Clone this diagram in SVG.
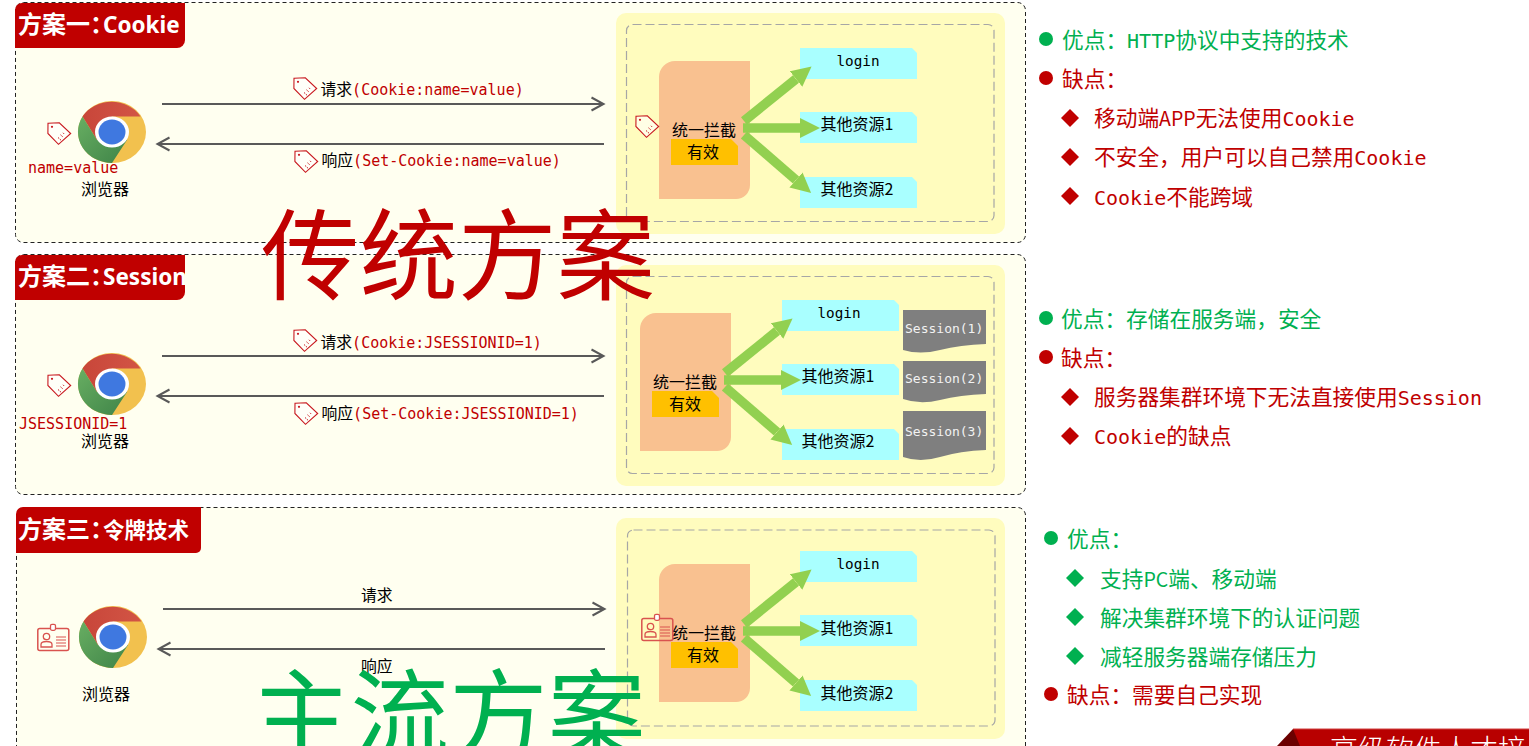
<svg xmlns="http://www.w3.org/2000/svg" width="1529" height="746" viewBox="0 0 1529 746">
<style>
text{font-family:"Noto Sans CJK SC","Noto Sans",sans-serif;fill:#000}
.m{font-family:"DejaVu Sans Mono","Noto Sans CJK SC",monospace}
.panel{fill:#FFFFF0;stroke:#222;stroke-width:1;stroke-dasharray:4 3}
.tab{fill:#C00000}
.tabt{fill:#fff;font-weight:700;font-size:24px}
.lat{font-family:"Noto Sans",sans-serif;font-size:22.500px}
.yel{fill:#FFFCBE}
.dash{fill:none;stroke:#A6A6A6;stroke-width:1.2;stroke-dasharray:9 4}
.orange{fill:#F9C190}
.gold{fill:#FFC000}
.blue{fill:#A9FFFF}
.doc{fill:#7F7F7F}
.doct{fill:#F2F2F2;font-size:13px}
.s{font-size:16px}
.lab{font-size:15.8px}
.ltm{font-size:15px;fill:#C00000}
.red{fill:#C00000}
.grn{fill:#00B050}
.li{font-size:21.7px}
.lim{font-size:20px}
.nar{font-size:19.500px}
.fat{stroke:#92D050;stroke-width:9.5;fill:none;marker-end:url(#fat)}
.thin{stroke:#595959;stroke-width:2;fill:none;marker-end:url(#open)}
.big{font-size:98.5px}
</style>
<defs>
<marker id="fat" markerUnits="userSpaceOnUse" markerWidth="20" markerHeight="20" refX="0" refY="10" orient="auto" viewBox="0 0 20 20"><path d="M0 0L20 10L0 20Z" fill="#92D050"/></marker>
<marker id="open" markerUnits="userSpaceOnUse" markerWidth="16" markerHeight="18" refX="13" refY="8" orient="auto" viewBox="0 0 16 16"><path d="M1.5 1.5L13.5 8L1.5 14.5" fill="none" stroke="#595959" stroke-width="2"/></marker>
<linearGradient id="gr" x1="0" y1="0" x2="1" y2="1"><stop offset="0" stop-color="#68AE62"/><stop offset="1" stop-color="#3F8448"/></linearGradient>
<linearGradient id="rd" x1="0" y1="0" x2="1" y2="0"><stop offset="0" stop-color="#C8463A"/><stop offset="1" stop-color="#D25545"/></linearGradient>
<symbol id="chrome" viewBox="0 0 68 62" width="68" height="62" overflow="visible">
<ellipse cx="34" cy="31" rx="34" ry="31" fill="#F2C14E"/>
<path d="M4.500 15.500A34 31 0 0 1 62.500 15.500H34L19 39Z" fill="url(#rd)"/>
<path d="M4.500 15.500A34 31 0 0 0 34 62L49 39L19 39Z" fill="url(#gr)"/>
<ellipse cx="34" cy="31" rx="17" ry="15.500" fill="#fff"/>
<ellipse cx="34" cy="31" rx="13.500" ry="12.500" fill="#3F78E0"/>
</symbol>
<symbol id="tag" viewBox="0 0 25 24" width="25" height="24" overflow="visible">
<path d="M1 1.300L12.300.8L23.700 11.500L11.500 22.300L.9 11.500Z" fill="#fff" fill-opacity=".6" stroke="#C8181E" stroke-width="1.100"/>
<circle cx="5" cy="4.800" r="1.100" fill="#C8181E"/>
<path d="M11 15.500L14 18.200M13.500 12.800L16 15M16 10.800L17.500 12.300" stroke="#C8181E" stroke-width="1" stroke-dasharray="1.500 1"/>
</symbol>
<symbol id="badge" viewBox="0 0 33 28" width="33" height="28" overflow="visible">
<rect x=".8" y="5" width="31" height="22" rx="2" fill="none" stroke="#D9534F" stroke-width="1.500"/>
<rect x="13.500" y=".8" width="5" height="6" rx="1.500" fill="#fff" stroke="#D9534F" stroke-width="1.300"/>
<circle cx="9.500" cy="13" r="3.200" fill="none" stroke="#D9534F" stroke-width="1.300"/>
<path d="M4 23.500V21Q4 18 9.500 18T15 21V23.500Z" fill="none" stroke="#D9534F" stroke-width="1.300"/>
<path d="M19 13.500H29M19 16.500H29M19 19.500H29M19 22.500H29" stroke="#D9534F" stroke-width="1.200"/>
</symbol>
<path id="orangeShape" d="M16 0H91V124A14 14 0 0 1 77 138H0V16A16 16 0 0 1 16 0Z"/>
<path id="goldShape" d="M0 0H60L67 7V26H0Z"/>
<path id="blueShape" d="M0 0H112L117 5V31H0Z"/>
</defs>

<!-- first scheme: Cookie -->
<g id="panel-cookie">
<rect class="panel" x="15.500" y="2.500" width="1010" height="240" rx="8"/>
<path class="tab" d="M22 3H185V40A8 8 0 0 1 177 48H15V10A7 7 0 0 1 22 3Z"/>
<text class="tabt" x="18" y="33">方案一：<tspan class="lat" x="103">Cookie</tspan></text>
</g>
<g id="browser-cookie">
<use href="#chrome" x="78" y="101"/>
<use href="#tag" x="47" y="122"/>
<text class="m red" style="fill:#C00000" font-size="15" x="28" y="173">name=value</text>
<text class="s" x="81" y="195">浏览器</text>
</g>
<g id="server-cookie">
<rect class="yel" x="616" y="13" width="389" height="221" rx="10"/>
<rect class="dash" x="626.500" y="24.500" width="367.500" height="197" rx="6"/>
<use href="#orangeShape" class="orange" x="659" y="61"/>
<use href="#goldShape" class="gold" x="671" y="139"/>
<text class="s" x="672" y="136">统一拦截</text>
<text class="s" x="687" y="158">有效</text>
<use href="#tag" x="635" y="115"/>
</g>
<g id="res-cookie-login"><use href="#blueShape" class="blue" x="800" y="48"/><text class="m" font-size="14.300" text-anchor="middle" x="858" y="66">login</text></g>
<g id="res-cookie-1"><use href="#blueShape" class="blue" x="800" y="112"/><text class="s" x="820.500" y="129.500">其他资源1</text></g>
<g id="res-cookie-2"><use href="#blueShape" class="blue" x="800" y="177"/><text class="s" x="820.500" y="195">其他资源2</text></g>

<!-- second scheme: Session -->
<g id="panel-session">
<rect class="panel" x="15.500" y="254.500" width="1010" height="240" rx="8"/>
<path class="tab" d="M22 255H185V292A8 8 0 0 1 177 300H15V262A7 7 0 0 1 22 255Z"/>
<text class="tabt" x="18" y="285">方案二：<tspan class="lat" x="103">Session</tspan></text>
</g>
<g id="browser-session">
<use href="#chrome" x="78" y="353"/>
<use href="#tag" x="47" y="374"/>
<text class="m" style="fill:#C00000" font-size="15" x="19" y="429">JSESSIONID=1</text>
<text class="s" x="81" y="447">浏览器</text>
</g>
<g id="server-session">
<rect class="yel" x="616" y="265" width="389" height="221" rx="10"/>
<rect class="dash" x="626.500" y="276.500" width="367.500" height="197" rx="6"/>
<use href="#orangeShape" class="orange" x="640" y="313"/>
<use href="#goldShape" class="gold" x="652" y="391"/>
<text class="s" x="653" y="388">统一拦截</text>
<text class="s" x="669" y="410">有效</text>
</g>
<g id="res-session-login"><use href="#blueShape" class="blue" x="782" y="300"/><text class="m" font-size="14.300" text-anchor="middle" x="839" y="318">login</text></g>
<g id="res-session-1"><use href="#blueShape" class="blue" x="782" y="364"/><text class="s" x="801.500" y="382">其他资源1</text></g>
<g id="res-session-2"><use href="#blueShape" class="blue" x="782" y="429"/><text class="s" x="801.500" y="447">其他资源2</text></g>
<g id="session-1"><path class="doc" d="M903 310H986V344Q960 345 940 350T903 350Z"/><text class="m doct" x="905" y="333">Session(1)</text></g>
<g id="session-2"><path class="doc" d="M903 361H986V394Q960 395 940 400T903 399Z"/><text class="m doct" x="905" y="383">Session(2)</text></g>
<g id="session-3"><path class="doc" d="M903 411H986V450Q960 451 940 457T903 457Z"/><text class="m doct" x="905" y="436">Session(3)</text></g>

<!-- third scheme: token -->
<g id="panel-token">
<rect class="panel" x="16.500" y="507.500" width="1009" height="248" rx="8"/>
<path class="tab" d="M23 507H201V548A5 5 0 0 1 196 553H16V514A7 7 0 0 1 23 507Z"/>
<text class="tabt" x="18" y="538">方案三：<tspan x="103" font-size="21.500px">令牌技术</tspan></text>
</g>
<g id="browser-token">
<use href="#chrome" x="79" y="606"/>
<use href="#badge" x="37" y="623.500"/>
<text class="s" x="82" y="700">浏览器</text>
</g>
<g id="server-token">
<rect class="yel" x="616" y="518" width="389" height="221" rx="10"/>
<rect class="dash" x="627.500" y="530" width="367.500" height="196" rx="6"/>
<use href="#orangeShape" class="orange" x="659" y="564"/>
<use href="#goldShape" class="gold" x="671" y="642"/>
<text class="s" x="672" y="639">统一拦截</text>
<text class="s" x="687" y="661">有效</text>
<use href="#badge" x="641" y="613.500"/>
</g>
<g id="res-token-login"><use href="#blueShape" class="blue" x="800" y="551"/><text class="m" font-size="14.300" text-anchor="middle" x="858" y="569">login</text></g>
<g id="res-token-1"><use href="#blueShape" class="blue" x="800" y="615"/><text class="s" x="820.500" y="633.500">其他资源1</text></g>
<g id="res-token-2"><use href="#blueShape" class="blue" x="800" y="680"/><text class="s" x="820.500" y="699">其他资源2</text></g>

<!-- request and response connectors with their labels -->
<g id="connectors">
<path class="thin" d="M162 104H603"/><path class="thin" d="M604 144H158"/>
<path class="thin" d="M162 356H603"/><path class="thin" d="M604 396H158"/>
<path class="thin" d="M163 609H604"/><path class="thin" d="M605 649H159"/>
<path class="fat" d="M744 121L796 79"/><path class="fat" d="M743 128H800"/><path class="fat" d="M744 135L796 180"/>
<path class="fat" d="M725 373L777 331"/><path class="fat" d="M724 380H781"/><path class="fat" d="M725 387L777 432"/>
<path class="fat" d="M744 624L796 582"/><path class="fat" d="M743 631H800"/><path class="fat" d="M744 638L796 683"/>
</g>
<g id="connector-labels">
<use href="#tag" x="293" y="77"/><text class="lab" x="320.500" y="95">请求<tspan class="m ltm">(Cookie:name=value)</tspan></text>
<use href="#tag" x="294" y="150"/><text class="lab" x="321.500" y="166">响应<tspan class="m ltm">(Set-Cookie:name=value)</tspan></text>
<use href="#tag" x="293" y="329"/><text class="lab" x="320.500" y="348">请求<tspan class="m ltm">(Cookie:JSESSIONID=1)</tspan></text>
<use href="#tag" x="294" y="402"/><text class="lab" x="321.500" y="419">响应<tspan class="m ltm">(Set-Cookie:JSESSIONID=1)</tspan></text>
<text class="lab" x="361" y="601">请求</text>
<text class="lab" x="361" y="672">响应</text>
</g>

<!-- large captions over the panels -->
<text id="caption-traditional" class="big" style="fill:#C00000" x="261" y="292">传统方案</text>
<text id="caption-mainstream" class="big" style="fill:#00B050" x="252" y="752">主流方案</text>

<!-- pros and cons -->
<g id="notes-cookie">
<circle class="grn" cx="1046" cy="39" r="7"/><text class="li" style="fill:#00B050" x="1062" y="48">优点：<tspan class="m lim">HTTP</tspan>协议中支持的技术</text>
<circle class="red" cx="1046" cy="78" r="7"/><text class="li" style="fill:#C00000" x="1062" y="87">缺点：</text>
<path class="red" d="M1070 109l9 9l-9 9l-9-9Z"/><text class="li" style="fill:#C00000" x="1094" y="126">移动端<tspan class="nar">APP</tspan>无法使用<tspan class="m lim">Cookie</tspan></text>
<path class="red" d="M1070 148l9 9l-9 9l-9-9Z"/><text class="li" style="fill:#C00000" x="1094" y="165">不安全，用户可以自己禁用<tspan class="m lim">Cookie</tspan></text>
<path class="red" d="M1070 187l9 9l-9 9l-9-9Z"/><text class="li" style="fill:#C00000" x="1094" y="205"><tspan class="m lim">Cookie</tspan>不能跨域</text>
</g>
<g id="notes-session">
<circle class="grn" cx="1046" cy="318" r="7"/><text class="li" style="fill:#00B050" x="1061" y="327">优点：存储在服务端，安全</text>
<circle class="red" cx="1046" cy="357" r="7"/><text class="li" style="fill:#C00000" x="1061" y="366">缺点：</text>
<path class="red" d="M1070 388l9 9l-9 9l-9-9Z"/><text class="li" style="fill:#C00000" x="1094" y="405">服务器集群环境下无法直接使用<tspan class="m lim">Session</tspan></text>
<path class="red" d="M1070 427l9 9l-9 9l-9-9Z"/><text class="li" style="fill:#C00000" x="1094" y="444"><tspan class="m lim">Cookie</tspan>的缺点</text>
</g>
<g id="notes-token">
<circle class="grn" cx="1051" cy="538" r="7"/><text class="li" style="fill:#00B050" x="1067" y="547">优点：</text>
<path class="grn" d="M1075 569l9 9l-9 9l-9-9Z"/><text class="li" style="fill:#00B050" x="1100" y="587">支持<tspan class="nar">PC</tspan>端、移动端</text>
<path class="grn" d="M1075 608l9 9l-9 9l-9-9Z"/><text class="li" style="fill:#00B050" x="1100" y="626">解决集群环境下的认证问题</text>
<path class="grn" d="M1075 647l9 9l-9 9l-9-9Z"/><text class="li" style="fill:#00B050" x="1100" y="665">减轻服务器端存储压力</text>
<circle class="red" cx="1051" cy="694" r="7"/><text class="li" style="fill:#C00000" x="1067" y="703">缺点：需要自己实现</text>
</g>

<!-- footer ribbon -->
<g id="footer">
<path d="M1293 729H1529V746H1293Z" fill="#B80000"/>
<path d="M1293 729H1529" stroke="#D04040" stroke-width="1"/>
<path d="M1277 746L1293 729L1300 746Z" fill="#6B0000"/>
<text x="1330" y="760" font-size="28" style="fill:#fff;font-weight:300">高级软件人才培</text>
</g>
</svg>
